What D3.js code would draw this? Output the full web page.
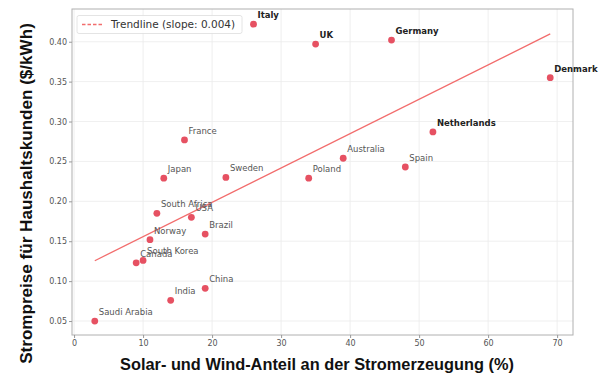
<!DOCTYPE html>
<html>
<head>
<meta charset="utf-8">
<script src="https://cdn.jsdelivr.net/npm/d3@7/dist/d3.min.js"></script>
<style>
html,body{margin:0;padding:0;background:#fff;}
svg{display:block;}
</style>
</head>
<body>
<svg id="chart" width="600" height="391"></svg>
<script>
const countries = ["Italy","UK","Germany","Denmark","Netherlands","Australia","Spain","Poland","France","Japan","Sweden","South Africa","USA","Brazil","Norway","Canada","South Korea","China","India","Saudi Arabia"];
const shares = [26,35,46,69,52,39,48,34,16,13,22,12,17,19,11,9,10,19,14,3];
const prices = [0.422,0.397,0.402,0.355,0.287,0.254,0.243,0.229,0.277,0.229,0.230,0.185,0.180,0.159,0.152,0.123,0.126,0.091,0.076,0.050];
const highlighted = ["Italy","UK","Germany","Denmark","Netherlands"];
const xTicks = [0,10,20,30,40,50,60,70];
const yTicks = [0.05,0.10,0.15,0.20,0.25,0.30,0.35,0.40];
const xLabel = "Solar- und Wind-Anteil an der Stromerzeugung (%)";
const yLabel = "Strompreise für Haushaltskunden ($/kWh)";

const data = countries.map((c,i)=>({name:c, x:shares[i], y:prices[i]}));

// least squares trendline
const mx = d3.mean(data,d=>d.x), my = d3.mean(data,d=>d.y);
const sxy = d3.sum(data,d=>(d.x-mx)*(d.y-my));
const sxx = d3.sum(data,d=>(d.x-mx)*(d.x-mx));
const slope = sxy/sxx, intercept = my - slope*mx;
const legendText = "Trendline (slope: " + slope.toFixed(3) + ")";

const L=72, R=573, T=9, B=335;
const svg = d3.select("#chart");
const x = d3.scaleLinear().domain([-0.3,72.3]).range([L,R]);
const y = d3.scaleLinear().domain([0.0325,0.441]).range([B,T]);

// grid
svg.append("g").selectAll("line").data(xTicks).join("line")
  .attr("x1",d=>x(d)).attr("x2",d=>x(d)).attr("y1",T).attr("y2",B)
  .attr("stroke","#ebebeb").attr("stroke-width",0.8);
svg.append("g").selectAll("line").data(yTicks).join("line")
  .attr("y1",d=>y(d)).attr("y2",d=>y(d)).attr("x1",L).attr("x2",R)
  .attr("stroke","#ebebeb").attr("stroke-width",0.8);

// frame
svg.append("rect").attr("x",L).attr("y",T).attr("width",R-L).attr("height",B-T)
  .attr("fill","none").attr("stroke","#b0b0b0").attr("stroke-width",1);

// axes
const xAxis = svg.append("g").attr("transform",`translate(0,${B})`)
  .call(d3.axisBottom(x).tickValues(xTicks).tickSize(3).tickPadding(2).tickFormat(d3.format("d")));
const yAxis = svg.append("g").attr("transform",`translate(${L},0)`)
  .call(d3.axisLeft(y).tickValues(yTicks).tickSize(3).tickPadding(2).tickFormat(d3.format(".2f")));
[xAxis,yAxis].forEach(a=>{
  a.select(".domain").remove();
  a.selectAll(".tick line").attr("stroke","#999");
  a.selectAll(".tick text").attr("fill","#555").style("font-family","DejaVu Sans").style("font-size","8px");
});

// trendline
const xs = d3.extent(data,d=>d.x);
svg.append("line")
  .attr("x1",x(xs[0])).attr("y1",y(intercept+slope*xs[0]))
  .attr("x2",x(xs[1])).attr("y2",y(intercept+slope*xs[1]))
  .attr("stroke","#f26d6d").attr("stroke-width",1.3);

// points
svg.append("g").selectAll("circle").data(data).join("circle")
  .attr("cx",d=>x(d.x)).attr("cy",d=>y(d.y)).attr("r",3.4)
  .attr("fill","#e5485a").attr("fill-opacity",0.95);

// labels
svg.append("g").selectAll("text").data(data).join("text")
  .attr("x",d=>x(d.x)+4).attr("y",d=>y(d.y)-6)
  .text(d=>d.name)
  .style("font-family","DejaVu Sans").style("font-size","8.5px")
  .attr("font-weight",d=>highlighted.includes(d.name)?"bold":"normal")
  .attr("fill",d=>highlighted.includes(d.name)?"#222":"#555");

// legend
const lg = svg.append("g");
lg.append("rect").attr("x",77).attr("y",15.5).attr("width",165).attr("height",18).attr("rx",2)
  .attr("fill","#fff").attr("fill-opacity",0.85).attr("stroke","#dddddd").attr("stroke-width",0.8);
lg.append("line").attr("x1",82).attr("x2",103).attr("y1",24.5).attr("y2",24.5)
  .attr("stroke","#f26d6d").attr("stroke-width",1.3).attr("stroke-dasharray","3.5,2");
lg.append("text").attr("x",111).attr("y",28.3).text(legendText)
  .style("font-family","DejaVu Sans").style("font-size","10.5px").attr("fill","#333");

// axis labels, sized to match the reference's extents
function fit(sel, target){
  const base = 16;
  sel.style("font-size", base+"px");
  const len = sel.node().getComputedTextLength();
  sel.style("font-size", (base*target/len).toFixed(2)+"px");
}
const xl = svg.append("text").attr("x",317).attr("y",369.5).attr("text-anchor","middle")
  .text(xLabel).style("font-family","Liberation Sans").attr("font-weight","bold").attr("fill","#111");
fit(xl, 394);
const yl = svg.append("text").attr("transform",`translate(31.5,193.5) rotate(-90)`).attr("text-anchor","middle")
  .text(yLabel).style("font-family","Liberation Sans").attr("font-weight","bold").attr("fill","#111");
fit(yl, 341);
</script>
</body>
</html>
